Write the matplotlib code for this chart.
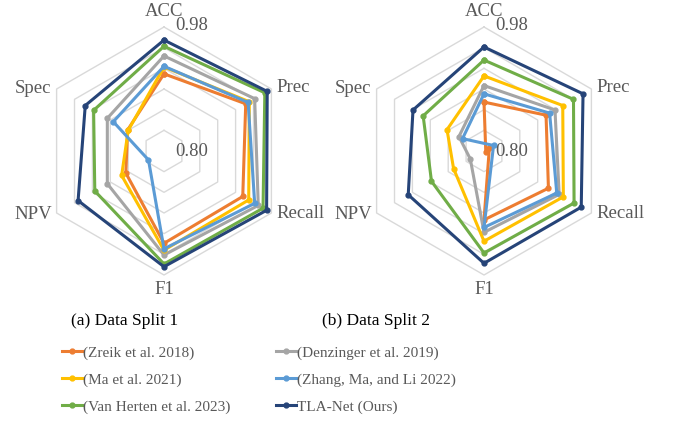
import matplotlib.pyplot as plt
import numpy as np

plt.rcParams['font.family'] = ['Liberation Serif', 'DejaVu Serif']

# radar axes (clockwise from the top)
metrics = ["ACC", "Prec", "Recall", "F1", "NPV", "Spec"]

methods = ["(Zreik et al. 2018)", "(Denzinger et al. 2019)", "(Ma et al. 2021)",
           "(Zhang, Ma, and Li 2022)", "(Van Herten et al. 2023)", "TLA-Net (Ours)"]
colors = ["#ED7D31", "#A5A5A5", "#FFC000", "#5B9BD5", "#70AD47", "#264478"]

# data split 1 :  ACC, Prec, Recall, F1, NPV, Spec
zreik_1 = [0.912, 0.937, 0.932, 0.934, 0.864, 0.861]
denzinger_1 = [0.938, 0.952, 0.958, 0.951, 0.895, 0.895]
ma_1 = [0.922, 0.943, 0.942, 0.944, 0.871, 0.860]
zhang_1 = [0.923, 0.941, 0.952, 0.942, 0.826, 0.885]
vanherten_1 = [0.952, 0.969, 0.966, 0.964, 0.916, 0.918]
tla_1 = [0.961, 0.973, 0.972, 0.968, 0.944, 0.932]

# data split 2
zreik_2 = [0.871, 0.904, 0.908, 0.900, 0.791, 0.797]
denzinger_2 = [0.895, 0.919, 0.926, 0.918, 0.823, 0.842]
ma_2 = [0.909, 0.932, 0.933, 0.931, 0.851, 0.862]
zhang_2 = [0.883, 0.910, 0.922, 0.911, 0.784, 0.836]
vanherten_2 = [0.932, 0.950, 0.951, 0.948, 0.888, 0.902]
tla_2 = [0.951, 0.966, 0.963, 0.963, 0.927, 0.919]

split_1 = [zreik_1, denzinger_1, ma_1, zhang_1, vanherten_1, tla_1]
split_2 = [zreik_2, denzinger_2, ma_2, zhang_2, vanherten_2, tla_2]

r_min, r_max, r_step = 0.80, 0.98, 0.03
theta = np.linspace(0, 2 * np.pi, len(metrics), endpoint=False)
text_col = "#595959"


def closed(values):
    # excel draws values under the minimum through the centre
    v = np.append(values, values[0])
    th = np.append(theta, theta[0])
    neg = v < r_min
    th = np.where(neg, th + np.pi, th)
    v = np.where(neg, 2 * r_min - v, v)
    return th, v


# label placement : offset in pixels, alignment
label_pos = [((0, 16), "center", "center"),
             ((5, 1), "left", "center"),
             ((5, -1), "left", "center"),
             ((0, -15), "center", "center"),
             ((-5, -1), "right", "center"),
             ((-5, 1), "right", "center")]


def radar(ax, data):
    ax.set_theta_zero_location("N")
    ax.set_theta_direction(-1)
    ax.set_ylim(r_min, r_max)
    ax.grid(False)
    ax.set_xticks([])
    ax.set_yticks([])
    ax.spines["polar"].set_visible(False)
    ax.patch.set_alpha(0)

    # hexagon grid
    for r in np.arange(r_min + r_step, r_max + 1e-9, r_step):
        th, v = closed([r] * len(metrics))
        ax.plot(th, v, color="#D9D9D9", lw=1.0, clip_on=False, zorder=1)

    lines = []
    for vals, c in zip(data, colors):
        th, v = closed(vals)
        ln, = ax.plot(th, v, color=c, lw=2.2, marker="o", markersize=3.5,
                      clip_on=False, zorder=3)
        lines.append(ln)

    for t, name, (off, ha, va) in zip(theta, metrics, label_pos):
        ax.annotate(name, xy=(t, r_max), xytext=off, textcoords="offset pixels",
                    ha=ha, va=va, fontsize=13.5, color=text_col, annotation_clip=False)

    ax.annotate("0.98", xy=(0, r_max), xytext=(11, 2), textcoords="offset pixels",
                ha="left", va="center", fontsize=13.5, color=text_col, annotation_clip=False)
    ax.annotate("0.80", xy=(0, r_min), xytext=(11, 0), textcoords="offset pixels",
                ha="left", va="center", fontsize=13.5, color=text_col, annotation_clip=False)
    return lines


W, H = 676, 422
fig = plt.figure(figsize=(W / 100, H / 100), dpi=100)

R = 124
ax1 = fig.add_axes([(164 - R) / W, (H - 151 - R) / H, 2 * R / W, 2 * R / H], projection="polar")
ax2 = fig.add_axes([(484 - R) / W, (H - 151 - R) / H, 2 * R / W, 2 * R / H], projection="polar")

lines = radar(ax1, split_1)
radar(ax2, split_2)

fig.text(125 / W, 1 - 321 / H, "(a) Data Split 1", ha="center", va="center", fontsize=12.5, color="black")
fig.text(376 / W, 1 - 321 / H, "(b) Data Split 2", ha="center", va="center", fontsize=12.5, color="black")

# legend : two columns, row-major order
leg_kw = dict(loc="upper left", frameon=False, fontsize=11, borderpad=0, borderaxespad=0,
              handlelength=1.3, handletextpad=0.1, labelspacing=0.85, labelcolor=text_col)
fig.legend(lines[0::2], methods[0::2], bbox_to_anchor=(62 / W, 1 - 346 / H), **leg_kw)
fig.legend(lines[1::2], methods[1::2], bbox_to_anchor=(276 / W, 1 - 346 / H), **leg_kw)

fig.savefig("out.png", dpi=100)
